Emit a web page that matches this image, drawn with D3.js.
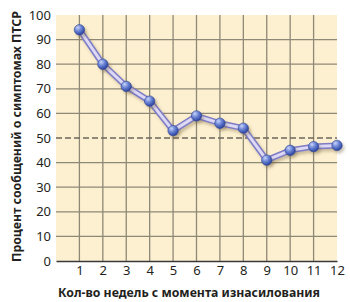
<!DOCTYPE html>
<html>
<head>
<meta charset="utf-8">
<script src="https://cdn.jsdelivr.net/npm/d3@7"></script>
<style>
  body { margin: 0; background: #fff; }
  svg { display: block; }
</style>
</head>
<body>
<svg width="350" height="302"></svg>
<script>
// data
var weeks = [1, 2, 3, 4, 5, 6, 7, 8, 9, 10, 11, 12];
var percent = [94, 80, 71, 65, 53, 59, 56, 54, 41, 45, 46.5, 47];
var yTicks = [0, 10, 20, 30, 40, 50, 60, 70, 80, 90, 100];
var refLine = 50;

var svg = d3.select("svg"),
margin = {
    top: 15,
    right: 13,
    bottom: 41,
    left: 56
}
width = +svg.attr("width") - margin.left - margin.right,
height = +svg.attr("height") - margin.top - margin.bottom;

var defs = svg.append("defs");
var grad = defs.append("radialGradient")
    .attr("id", "ball")
    .attr("cx", "35%").attr("cy", "30%").attr("r", "70%");
grad.append("stop").attr("offset", "0%").attr("stop-color", "#c8d4f8");
grad.append("stop").attr("offset", "45%").attr("stop-color", "#6f88d8");
grad.append("stop").attr("offset", "100%").attr("stop-color", "#2c45a0");

var shadow = defs.append("filter")
    .attr("id", "shadow")
    .attr("x", "-20%").attr("y", "-20%").attr("width", "160%").attr("height", "160%");
shadow.append("feDropShadow")
    .attr("dx", 2).attr("dy", 2.5).attr("stdDeviation", 1.6)
    .attr("flood-color", "#6b5a30").attr("flood-opacity", 0.35);

var g = svg.append("g")
    .attr("transform", "translate(" + margin.left + "," + margin.top + ")");

var x = d3.scaleLinear().domain([0, 12]).range([0, width]);
var y = d3.scaleLinear().domain([0, 100]).range([height, 0]);

// background
g.append("rect")
    .attr("width", width)
    .attr("height", height)
    .style("fill", "#fdf0d0");

// grid
g.selectAll(".vgrid")
    .data(weeks.slice(0, -1))
    .enter().append("line")
    .attr("class", "vgrid")
    .attr("x1", function(d) { return x(d); })
    .attr("x2", function(d) { return x(d); })
    .attr("y1", 0)
    .attr("y2", height)
    .style("stroke", "#8e8877")
    .style("stroke-width", 1.3);

g.selectAll(".hgrid")
    .data(yTicks.filter(function(d) { return d > 0 && d < 100 && d != refLine; }))
    .enter().append("line")
    .attr("class", "hgrid")
    .attr("x1", 0)
    .attr("x2", width)
    .attr("y1", function(d) { return y(d); })
    .attr("y2", function(d) { return y(d); })
    .style("stroke", "#8e8877")
    .style("stroke-width", 1.3);

// dashed reference at 50
g.append("line")
    .attr("x1", 0)
    .attr("x2", width)
    .attr("y1", y(refLine))
    .attr("y2", y(refLine))
    .style("stroke", "#6e675a")
    .style("stroke-width", 1.4)
    .style("stroke-dasharray", "6,3");

// x axis
var xAxis = g.append("g")
    .attr("transform", "translate(0," + height + ")")
    .call(d3.axisBottom(x).tickValues(weeks).tickSize(0).tickPadding(5));
xAxis.select(".domain").style("stroke", "#3a3a3a").style("stroke-width", 1.3);
xAxis.selectAll("text")
    .style("font", "13px 'Noto Sans'")
    .style("fill", "#231f20");

// y axis
var yAxis = g.append("g")
    .call(d3.axisLeft(y).tickValues(yTicks).tickSize(0).tickPadding(5));
yAxis.select(".domain").remove();
yAxis.selectAll("text")
    .style("font", "13px 'Noto Sans'")
    .style("fill", "#231f20");

// axis titles
svg.append("text")
    .attr("x", 189)
    .attr("y", 297)
    .attr("text-anchor", "middle")
    .attr("textLength", 262)
    .attr("lengthAdjust", "spacingAndGlyphs")
    .style("font", "bold 12.5px 'Noto Sans'")
    .style("fill", "#231f20")
    .text("Кол-во недель с момента изнасилования");

svg.append("text")
    .attr("transform", "translate(21,136.5) rotate(-90)")
    .attr("text-anchor", "middle")
    .attr("textLength", 251)
    .attr("lengthAdjust", "spacingAndGlyphs")
    .style("font", "bold 12.8px 'Noto Sans'")
    .style("fill", "#231f20")
    .text("Процент сообщений о симптомах ПТСР");

// line
var line = d3.line()
    .x(function(d, i) { return x(weeks[i]); })
    .y(function(d) { return y(d); });

var lineG = g.append("g").attr("filter", "url(#shadow)");
lineG.append("path")
    .datum(percent)
    .attr("d", line)
    .style("fill", "none")
    .style("stroke", "#7d7cc6")
    .style("stroke-width", 6)
    .style("stroke-linejoin", "round");
lineG.append("path")
    .datum(percent)
    .attr("d", line)
    .style("fill", "none")
    .style("stroke", "#ddd8f4")
    .style("stroke-width", 3)
    .style("stroke-linejoin", "round");

var dots = g.append("g").attr("filter", "url(#shadow)");
dots.selectAll(".dot")
    .data(percent)
    .enter().append("circle")
    .attr("class", "dot")
    .attr("cx", function(d, i) { return x(weeks[i]); })
    .attr("cy", function(d) { return y(d); })
    .attr("r", 5.2)
    .style("fill", "url(#ball)")
    .style("stroke", "#2e4594")
    .style("stroke-width", 0.6);
</script>
</body>
</html>
